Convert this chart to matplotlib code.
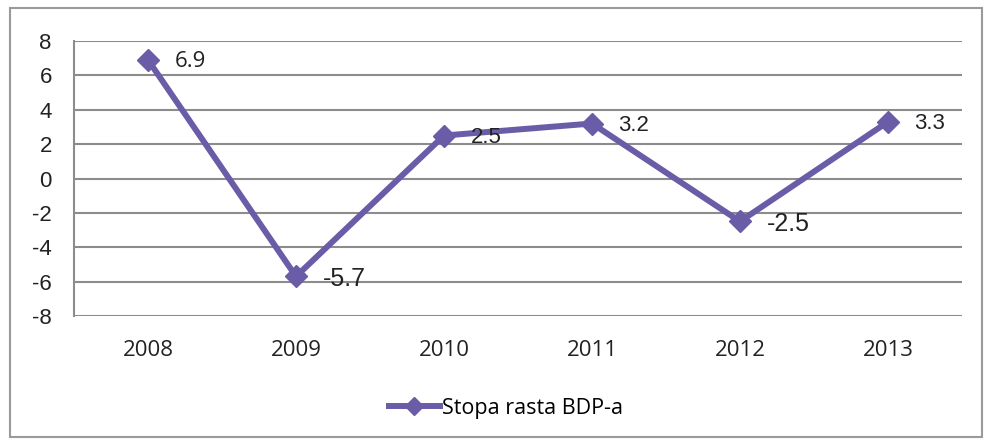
import matplotlib.pyplot as plt
from matplotlib.patches import Rectangle

years = ['2008', '2009', '2010', '2011', '2012', '2013']
growth = [6.9, -5.7, 2.5, 3.2, -2.5, 3.3]
label_texts = ['6.9', '-5.7', '2.5', '3.2', '-2.5', '3.3']
yticks = [-8, -6, -4, -2, 0, 2, 4, 6, 8]
series_name = 'Stopa rasta BDP-a'

color = '#6B5CA8'
grid_c = '#8C8C8C'

fig = plt.figure(figsize=(9.85, 4.44), dpi=100)
fig.patches.append(Rectangle((10/985, 1-437/444), 972/985, 429/444, transform=fig.transFigure,
                             fill=False, edgecolor='#9A9A9A', linewidth=1.5))
ax = fig.add_axes([74/985, 1-316/444, 888/985, 275/444])
x = list(range(len(years)))
line, = ax.plot(x, growth, color=color, linewidth=4.3, marker='D', markersize=11,
                label=series_name, zorder=3)
ax.set_xlim(-0.5, len(years)-0.5)
ax.set_ylim(-8, 8)
ax.set_yticks(yticks)
ax.set_yticklabels([str(t) for t in yticks])
ax.set_xticks(x)
ax.set_xticklabels(years)
for s in ['top', 'right', 'bottom']:
    ax.spines[s].set_visible(False)
ax.spines['left'].set_color(grid_c)
ax.spines['left'].set_linewidth(1.5)
ax.yaxis.grid(True, color=grid_c, linewidth=1.5)
ax.set_axisbelow(True)
ax.tick_params(length=0, colors='#222222')
ax.tick_params(axis='y', labelsize=16, pad=16)
ax.tick_params(axis='x', labelsize=16, pad=17)
for lab in ax.get_xticklabels():
    lab.set_family('Open Sans')
for lab in ax.get_yticklabels():
    lab.set_family('Liberation Sans')

for xi, v, t in zip(x, growth, label_texts):
    if t == '6.9':
        fam, fs = 'Open Sans', 16
    elif t in ('-5.7', '-2.5'):
        fam, fs = 'Liberation Sans', 18
    else:
        fam, fs = 'Liberation Sans', 16
    ax.annotate(t, (xi, v), xytext=(19, -1.5), textcoords='offset points',
                ha='left', va='center', fontsize=fs, family=fam, color='#222222', zorder=4)

leg = fig.legend(handles=[line], labels=[series_name], loc='center',
                 bbox_to_anchor=(506/985, 1-408/444), frameon=False,
                 prop={'family': 'Open Sans', 'size': 15.5}, handlelength=2.4,
                 handletextpad=0.1, markerscale=0.8)
fig.savefig('out.png', dpi=100)
